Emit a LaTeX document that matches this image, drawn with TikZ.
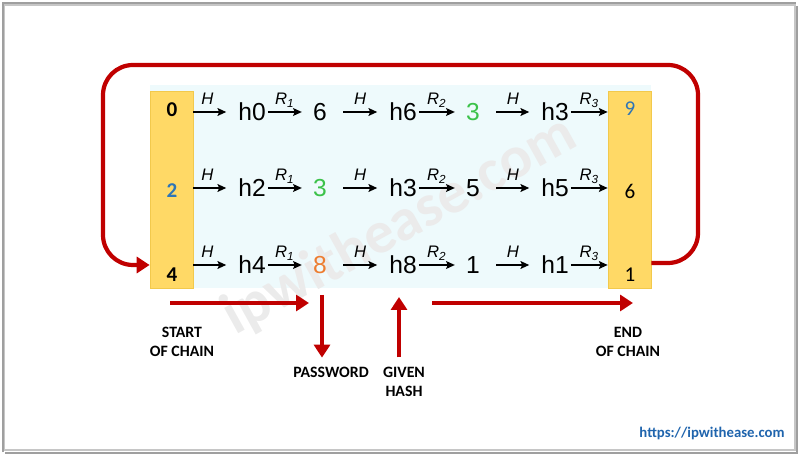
\documentclass[tikz,border=0pt]{standalone}
\usepackage{fontspec}
\setmainfont{Liberation Sans}
\newfontfamily\carlito{Carlito}
\usepackage{xcolor}
\usepackage{tikz}
\usetikzlibrary{arrows.meta,positioning}

\definecolor{chainred}{HTML}{C00000}
\definecolor{boxyellow}{HTML}{FFD966}
\definecolor{boxedge}{HTML}{F2C94C}
\definecolor{tablebg}{HTML}{EEFAFC}
\definecolor{numblue}{HTML}{2E75B6}
\definecolor{numgreen}{HTML}{3CC24A}
\definecolor{numorange}{HTML}{ED7D31}
\definecolor{urlblue}{HTML}{1F64AD}

\newcommand\rlab[1]{\textit{R}\textsubscript{\textit{#1}}}

\begin{document}
\begin{tikzpicture}[
    x=0.02cm, y=-0.02cm,
    every node/.style={inner sep=0pt, font=\fontsize{14}{16}\selectfont},
    hashval/.style={inner xsep=1pt},
    pwval/.style={inner xsep=0.22cm},
    yellowbox/.style={fill=boxyellow, draw=boxedge, line width=0.4pt, minimum width=0.86cm, minimum height=3.94cm},
    startval/.style={font=\carlito\bfseries\fontsize{12}{14}\selectfont},
    endval/.style={font=\carlito\fontsize{12}{14}\selectfont},
    fn/.style={-{Stealth[length=5pt,width=4.5pt,inset=1pt]}, line width=0.8pt},
    fnlabel/.style={anchor=base, yshift=4pt, font=\itshape\fontsize{9.5}{11}\selectfont},
    bigarrow/.style={-{Triangle[length=0.26cm,width=0.32cm]}, chainred, line width=2.4pt},
    caption/.style={align=center, font=\carlito\bfseries\fontsize{9}{10.8}\selectfont}
]
\useasboundingbox (0,0) rectangle (800,455);

% frame
\draw[gray!45, line width=1.2pt] (4,5) rectangle (795,450);
\draw[gray!75, line width=1.6pt] (797,6) -- (797,453) -- (5,453);
\draw[gray!75, line width=1pt] (3,452) -- (3,3) -- (796,3);

% table
\fill[tablebg] (150,85) rectangle (651,288);
\node[rotate=29, text=black!8, font=\carlito\bfseries\fontsize{34}{40}\selectfont] (mark) at (400,226) {ipwithease.com};
\node[yellowbox] (lbox) at (171.5,189.5) {};
\node[yellowbox] (rbox) at (629.5,189.5) {};

\node[startval] (num1) at (172,110) {0};
\node[startval, text=numblue] (num2) at (172,191) {2};
\node[startval] (num3) at (172,275) {4};
\node[endval, text=numblue] (end1) at (630,109) {9};
\node[endval] (end2) at (630,191) {6};
\node[endval] (end3) at (630,275) {1};

% row 1
\node[hashval] (ha1) at (252,112) {h0};
\node[pwval] (pa1) at (320,112) {6};
\node[hashval] (hb1) at (403,112) {h6};
\node[pwval, text=numgreen] (pb1) at (473,112) {3};
\node[hashval] (hc1) at (555,112) {h3};
% row 2
\node[hashval] (ha2) at (252,188) {h2};
\node[pwval, text=numgreen] (pa2) at (320,188) {3};
\node[hashval] (hb2) at (403,188) {h3};
\node[pwval] (pb2) at (473,188) {5};
\node[hashval] (hc2) at (555,188) {h5};
% row 3
\node[hashval] (ha3) at (252,265) {h4};
\node[pwval, text=numorange] (pa3) at (320,265) {8};
\node[hashval] (hb3) at (403,265) {h8};
\node[pwval] (pb3) at (473,265) {1};
\node[hashval] (hc3) at (555,265) {h1};

\foreach \r in {1,2,3} {
  \draw[fn, shorten >=0.2cm] (lbox.east |- ha\r) -- node[fnlabel, pos=0.33] {\textit{H}} (ha\r);
  \draw[fn] (ha\r) -- node[fnlabel] {\rlab{1}} (pa\r);
  \draw[fn, shorten <=0.1cm, shorten >=0.2cm] (pa\r) -- node[fnlabel, pos=0.45] {\textit{H}} (hb\r);
  \draw[fn] (hb\r) -- node[fnlabel] {\rlab{2}} (pb\r);
  \draw[fn, shorten <=0.1cm, shorten >=0.2cm] (pb\r) -- node[fnlabel, pos=0.45] {\textit{H}} (hc\r);
  \draw[fn] (hc\r) -- node[fnlabel] {\rlab{3}} (rbox.west |- hc\r);
}

% loop back from end to start
\coordinate (loopse) at (698,263);
\coordinate (loopne) at (698,65);
\coordinate (loopnw) at (103,65);
\coordinate (loopsw) at (103,265);
\draw[bigarrow, rounded corners=0.6cm] (rbox.east |- loopse) -- (loopse) -- (loopne) -- (loopnw) -- (loopsw) -- (lbox.west |- loopsw);

% captions
\node[caption] (start) at (182,342) {START\\OF CHAIN};
\node[caption] (pw) at (331,372) {PASSWORD};
\node[caption] (hash) at (404,382) {GIVEN\\HASH};
\node[caption] (finish) at (628,342) {END\\OF CHAIN};

\coordinate (startfrom) at (170,303);
\coordinate (startto) at (309,303);
\coordinate (pwfrom) at (322,295);
\coordinate (hashto) at (399,297);
\coordinate (endfrom) at (432,303);
\coordinate (endto) at (633,303);
\draw[bigarrow] (startfrom) -- (startto);
\draw[bigarrow, shorten >=5pt] (pwfrom) -- (pwfrom |- pw.north);
\draw[bigarrow, shorten <=5.5pt] (hashto |- hash.north) -- (hashto);
\draw[bigarrow] (endfrom) -- (endto);

\node[font=\carlito\bfseries\fontsize{8.4}{10}\selectfont, text=urlblue] (url) at (712,433) {https://ipwithease.com};
\end{tikzpicture}
\end{document}
